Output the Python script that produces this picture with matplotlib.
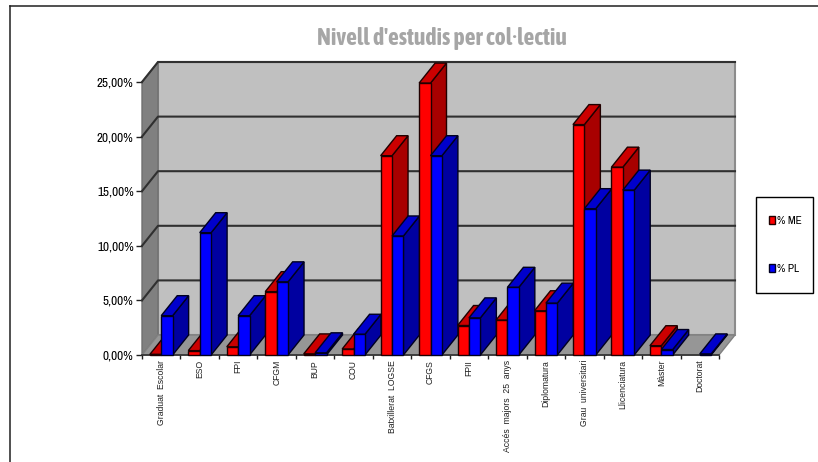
import matplotlib
matplotlib.use('Agg')
import matplotlib.pyplot as plt
from matplotlib import ticker
from matplotlib.patches import Polygon, Rectangle
from matplotlib.lines import Line2D

plt.rcParams['font.family'] = ['Archivo Narrow', 'Liberation Sans', 'DejaVu Sans']

categories = ['Graduat  Escolar', 'ESO', 'FPI', 'CFGM', 'BUP', 'COU', 'Batxillerat  LOGSE',
              'CFGS', 'FPII', 'Accés  majors  25  anys', 'Diplomatura', 'Grau  universitari',
              'Llicenciatura', 'Màster', 'Doctorat']
me = [0.05, 0.4, 0.75, 5.8, 0.1, 0.55, 18.25, 24.9, 2.7, 3.2, 4.05, 21.1, 17.2, 0.85, None]
pl = [3.6, 11.2, 3.6, 6.7, 0.2, 1.9, 10.9, 18.25, 3.4, 6.2, 4.75, 13.4, 15.1, 0.5, 0.1]
y_ticks = [0, 5, 10, 15, 20, 25]

W, H = 818, 462
# plot position in pixels
x_front, x_end, y_base, y_top = 142, 719, 355, 82
px_x = (x_end - x_front) / len(categories)
px_y = (y_base - y_top) / 25
# oblique depth in data units
dx = 16 / px_x
dy = 20 / px_y
bar_w = 11.4 / px_x

fig = plt.figure(figsize=(W / 100, H / 100), dpi=100)
ax = fig.add_axes([x_front / W, (H - y_base) / H, (x_end + 16 - x_front) / W, (y_base - y_top + 20) / H])
ax.set_xlim(0, len(categories) + dx)
ax.set_ylim(0, 25 + dy)
for s in ax.spines.values():
    s.set_visible(False)
ax.patch.set_visible(False)

n = len(categories)
# walls and floor
ax.add_patch(Polygon([(dx, dy), (n + dx, dy), (n + dx, 25 + dy), (dx, 25 + dy)], fc='#c0c0c0', ec='#8c8c8c', lw=1.5, zorder=1, clip_on=False))
ax.add_patch(Polygon([(0, 0), (0, 25), (dx, 25 + dy), (dx, dy)], fc='#808080', ec='#707070', lw=1, zorder=1, clip_on=False))
ax.add_patch(Polygon([(0, 0), (dx, dy), (n + dx, dy), (n, 0)], fc='#969696', ec='#808080', lw=1, zorder=1, clip_on=False))
for v in y_ticks[1:]:
    ax.plot([0, dx, n + dx], [v, v + dy, v + dy], color='#303030', lw=1.5, zorder=2, clip_on=False)
ax.plot([0, n], [0, 0], color='#303030', lw=1.2, zorder=2, clip_on=False)


def bar3d(x0, v, front, top, side, z):
    x1 = x0 + bar_w
    kw = dict(ec='#200000' if front == '#ff0000' else '#000020', lw=1, zorder=z, clip_on=False)
    ax.add_patch(Polygon([(x1, 0), (x1 + dx, dy), (x1 + dx, v + dy), (x1, v)], fc=side, **kw))
    ax.add_patch(Polygon([(x0, v), (x0 + dx, v + dy), (x1 + dx, v + dy), (x1, v)], fc=top, **kw))
    ax.add_patch(Rectangle((x0, 0), bar_w, v, fc=front, **kw))


z = 3
for i in range(n):
    c = i + 0.5
    if me[i] is not None:
        bar3d(c - bar_w, me[i], '#ff0000', '#cc0000', '#a80000', z)
    bar3d(c, pl[i], '#0000ff', '#0000cc', '#0000a0', z + 1)
    z += 2

# axes ticks
ax.set_yticks(y_ticks)
ax.yaxis.set_major_formatter(ticker.FuncFormatter(lambda v, p: f'{v:.2f}'.replace('.', ',') + '%'))
ax.tick_params(axis='y', length=4, width=1, labelsize=9.5, pad=2, color='#202020')
ax.set_xticks(range(n + 1))
ax.set_xticks([i + 0.5 for i in range(n)], minor=True)
ax.set_xticklabels([])
ax.set_xticklabels(categories, minor=True, rotation=90, fontsize=6.2, color='#202020',
                   family=['Liberation Sans'], va='top', ha='center')
ax.tick_params(axis='x', which='major', length=3, width=1, color='#202020')
ax.tick_params(axis='x', which='minor', length=0, pad=3.5)

fig.text(442 / W, 1 - 38 / H, "Nivell d'estudis per col·lectiu", color='#a6a6a6', fontsize=17,
         fontweight='bold', ha='center', va='center', family=['Asap Condensed', 'Liberation Sans'])

# legend box drawn apart, the row spacing and padding differ
fig.add_artist(Rectangle((756 / W, 1 - 293 / H), 57 / W, 96 / H, transform=fig.transFigure,
                         fc='white', ec='black', lw=1))
handles = [Rectangle((0, 0), 1, 1, fc='#ff0000', ec='#200000', lw=1),
           Rectangle((0, 0), 1, 1, fc='#0000ff', ec='#000020', lw=1)]
fig.legend(handles, ['% ME', '% PL'], loc='center', bbox_to_anchor=(785.5 / W, 1 - 245 / H),
           frameon=False, fontsize=8.2, handlelength=0.45, handleheight=0.75, handletextpad=0.2,
           labelspacing=3.3, borderpad=0, borderaxespad=0)

# outer frame, only top and left are inside the picture
fig.add_artist(Line2D([10 / W, 10 / W], [0, 1 - 6 / H], color='#202020', lw=1.1))
fig.add_artist(Line2D([10 / W, 1], [1 - 6 / H, 1 - 6 / H], color='#202020', lw=1.1))

fig.savefig('out.png', dpi=100)
